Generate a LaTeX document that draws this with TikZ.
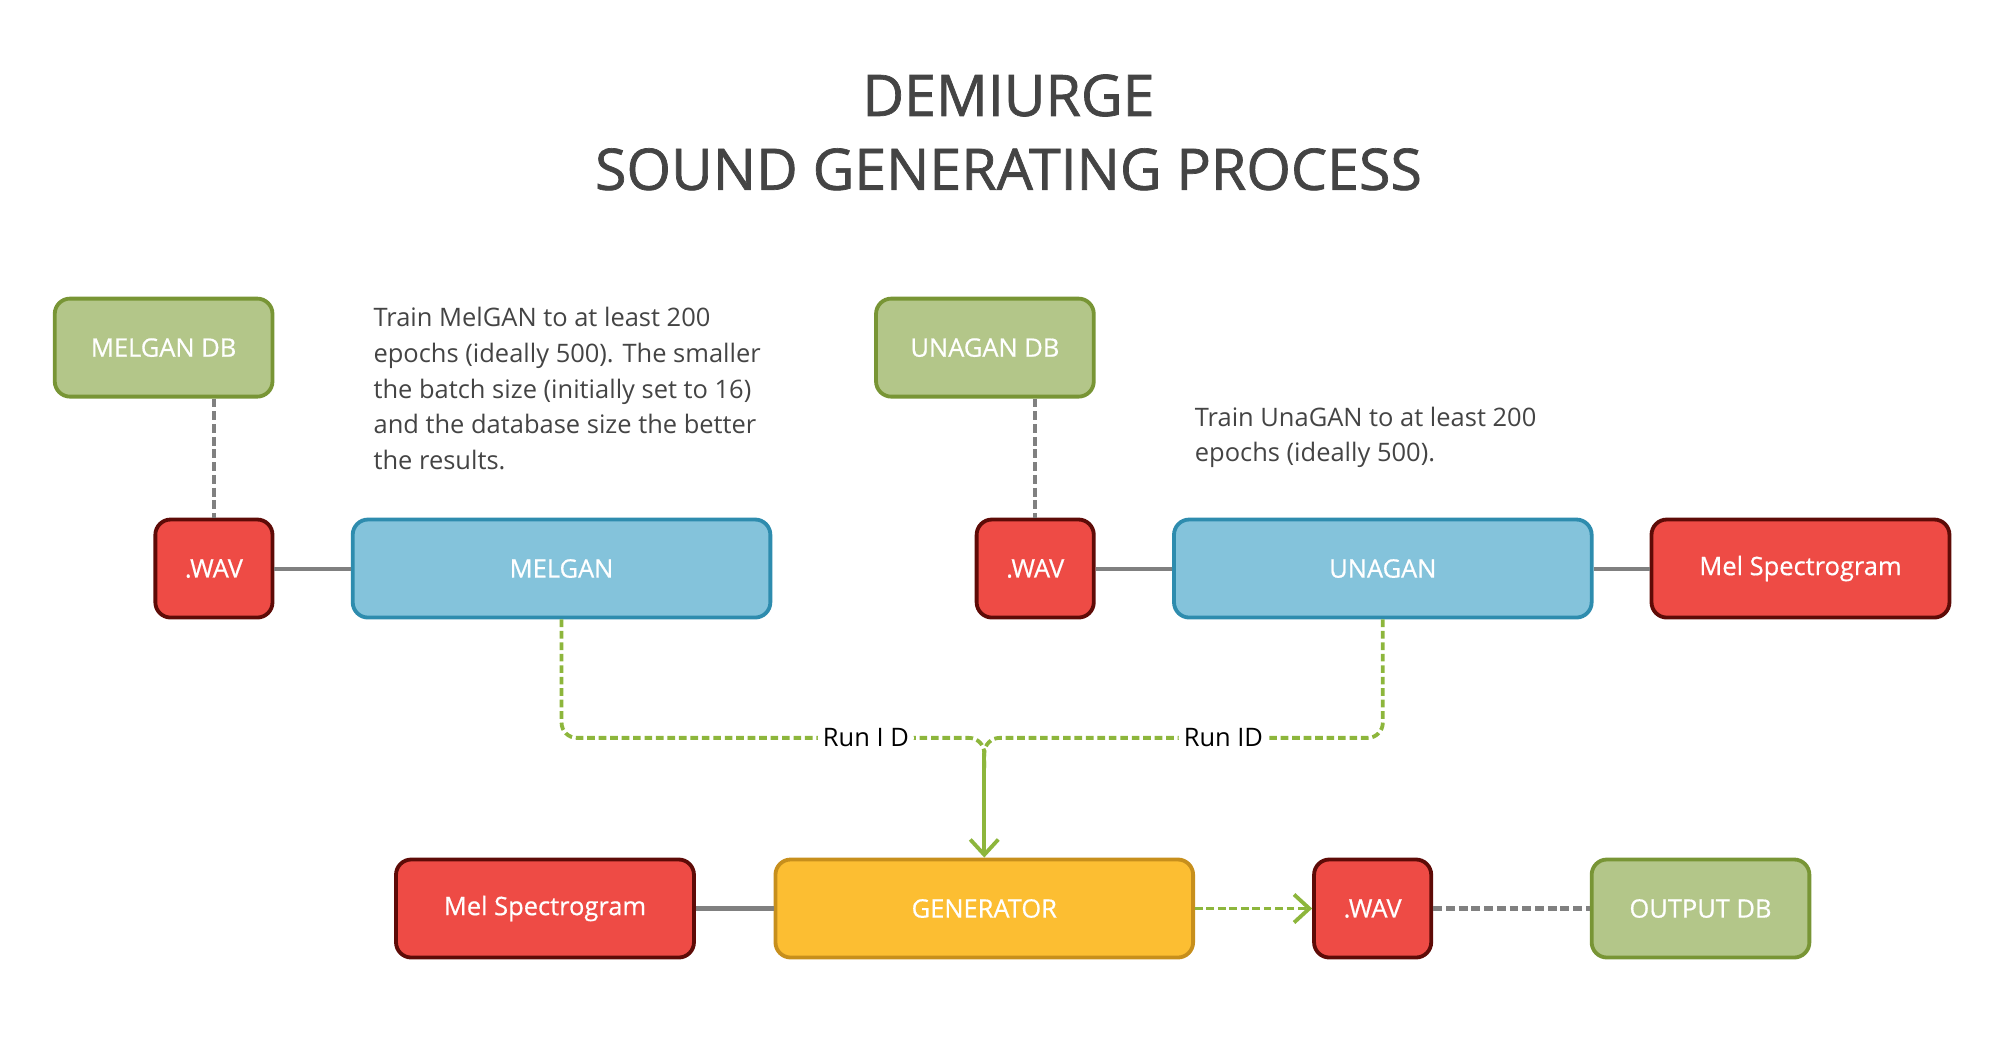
\documentclass[tikz,border=0pt]{standalone}
\usepackage{fontspec}
\setmainfont{Open Sans}
\newfontfamily\headfont{Open Sans}[FakeBold=1.2]
\newfontfamily\boxfont{Open Sans}[FakeBold=0.6]
\usepackage{tikz}
\usepackage{xcolor}
\usetikzlibrary{shapes,arrows,arrows.meta,positioning,calc}
\definecolor{redfill}{HTML}{EE4B45}
\definecolor{redline}{HTML}{5E0B07}
\definecolor{greenfill}{HTML}{B3C689}
\definecolor{greenline}{HTML}{789535}
\definecolor{bluefill}{HTML}{84C3DB}
\definecolor{blueline}{HTML}{2E8CAE}
\definecolor{yellowfill}{HTML}{FCBE32}
\definecolor{yellowline}{HTML}{C78F1C}
\definecolor{flowgreen}{HTML}{8DB63C}
\definecolor{linegray}{HTML}{808080}
\definecolor{textgray}{HTML}{444444}

\begin{document}
\begin{tikzpicture}[x=0.5pt, y=0.5pt, node distance=30pt,
		box/.style={rectangle, rounded corners=6pt, draw, line width=1.5pt, minimum height=38.5pt, text=white, font=\boxfont\fontsize{10}{12}\selectfont},
		wav/.style={box, fill=redfill, draw=redline, minimum width=46pt},
		mel/.style={box, fill=redfill, draw=redline, minimum width=117pt},
		db/.style={box, fill=greenfill, draw=greenline, minimum width=85.5pt},
		gan/.style={box, fill=bluefill, draw=blueline, minimum width=164pt},
		note/.style={inner sep=0pt, align=left, text=textgray, font=\fontsize{10}{14}\selectfont},
		link/.style={draw=linegray, line width=1.6pt},
		dashlink/.style={link, dash pattern=on 3.5pt off 1.5pt},
		flow/.style={draw=flowgreen, line width=1.5pt, dash pattern=on 3pt off 1.5pt},
		lbl/.style={fill=white, text=black, inner sep=2pt, font=\fontsize{10}{12}\selectfont}]
				\useasboundingbox (0,0) rectangle (1566,-819);
				\node[align=center, text=textgray, font=\headfont\fontsize{22.5}{29}\selectfont] (title) at (792,-104) {DEMIURGE\\SOUND GENERATING PROCESS};
				
				% MelGAN branch
				\node[db] (mdb) at (128.5,-273) {MELGAN DB};
				\node[wav] (wav1) at (168,-446.5) {.WAV};
				\node[gan, right=30pt of wav1] (melgan) {MELGAN};
				\node[note, anchor=north west] (note1) at (293,-241) {Train MelGAN to at least 200\\epochs (ideally 500). The smaller\\the batch size (initially set to 16)\\and the database size the better\\the results.};
				
				% UnaGAN branch
				\node[db] (udb) at (773.5,-273) {UNAGAN DB};
				\node[wav] (wav2) at (813,-446.5) {.WAV};
				\node[gan, right=30pt of wav2] (unagan) {UNAGAN};
				\node[mel, right=22pt of unagan] (mel1) {Mel Spectrogram};
				\node[note, anchor=north west] (note2) at (938,-319) {Train UnaGAN to at least 200\\epochs (ideally 500).};
				
				% generation
				\node[box, fill=yellowfill, draw=yellowline, minimum width=164pt] (gen) at (773,-713.5) {GENERATOR};
				\node[mel, left=30.5pt of gen] (mel2) {Mel Spectrogram};
				\node[wav, right=46pt of gen] (wav3) {.WAV};
				\node[db, right=61.5pt of wav3] (odb) {OUTPUT DB};
				\coordinate[above=47pt of gen.north] (join);
				
				\draw[dashlink] (mdb.south -| wav1) -- (wav1);
				\draw[link] (wav1) -- (melgan);
				\draw[dashlink] (udb.south -| wav2) -- (wav2);
				\draw[link] (wav2) -- (unagan);
				\draw[link] (unagan) -- (mel1);
				\draw[link] (mel2) -- (gen);
				\draw[dashlink] (wav3) -- (odb);
				
				\draw[flow, rounded corners=6pt] (melgan.south) |- node[pos=0.86, lbl] {Run I D} (join) -- ++(0,-24);
				\draw[flow, rounded corners=6pt] (unagan.south) |- node[pos=0.7, lbl] {Run ID} (join) -- ++(0,-24);
				\draw[draw=flowgreen, line width=1.5pt, -{Straight Barb[length=6pt, width=11pt]}] ($(join)+(0,-12)$) -- (gen.north);
				\draw[flow, -{Straight Barb[length=6pt, width=11pt]}] (gen) -- (wav3);
			\end{tikzpicture}
\end{document}
